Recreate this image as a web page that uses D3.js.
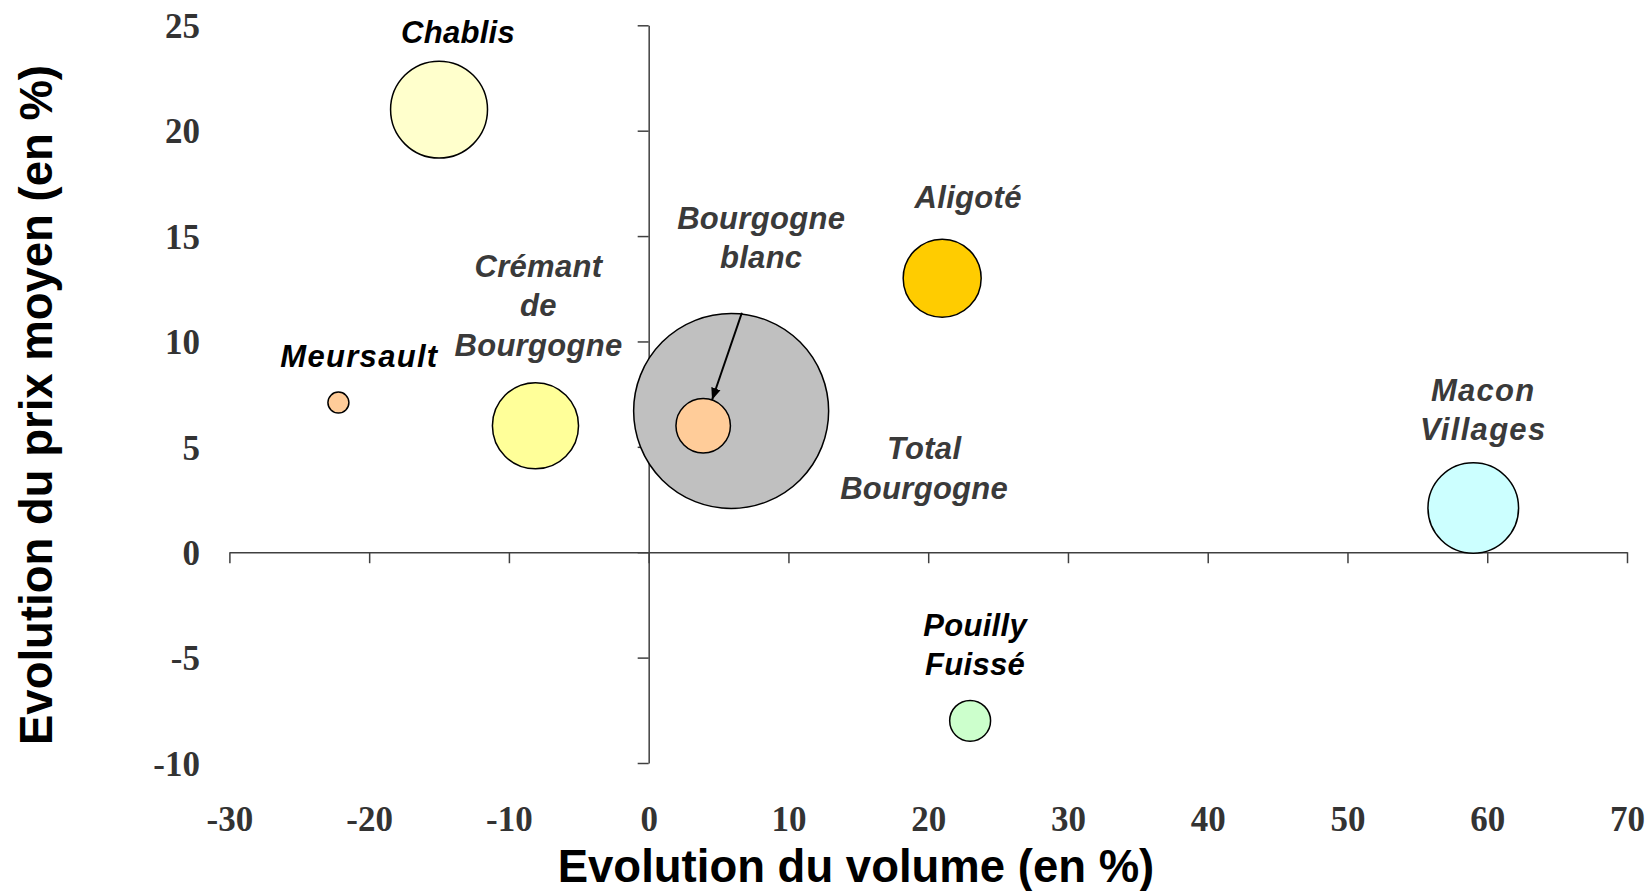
<!DOCTYPE html>
<html>
<head>
<meta charset="utf-8">
<script src="https://cdn.jsdelivr.net/npm/d3@7"></script>
<style>
  body { margin: 0; background: #fff; }
  svg { display: block; }
</style>
</head>
<body>
<svg id="chart" width="1650" height="891"></svg>
<script>
// data
const wines = ["Chablis", "Meursault", "Crémant de Bourgogne", "Total Bourgogne", "Bourgogne blanc", "Aligoté", "Macon Villages", "Pouilly Fuissé"]
const volumeChange = [-15, -22.2, -8.1, 5.9, 3.9, 21, 59, 23]
const priceChange = [21, 7.1, 6, 6.7, 6, 13, 2.1, -8]
const bubbleSize = [24.7, 1.16, 19.5, 100, 7.8, 16, 21.6, 4.4]
const labelLines = [["Chablis"], ["Meursault"], ["Crémant", "de", "Bourgogne"], ["Total", "Bourgogne"], ["Bourgogne", "blanc"], ["Aligoté"], ["Macon", "Villages"], ["Pouilly", "Fuissé"]]
const xTicks = [-30, -20, -10, 0, 10, 20, 30, 40, 50, 60, 70]
const yTicks = [-10, -5, 0, 5, 10, 15, 20, 25]

// styling / layout
const fills = ["#FFFFCC", "#FFCC99", "#FFFF99", "#C0C0C0", "#FFCC99", "#FFCC00", "#CCFFFF", "#CCFFCC"]
const labelColor = ["#000", "#000", "#3a3a3a", "#3a3a3a", "#3a3a3a", "#3a3a3a", "#3a3a3a", "#000"]
const labelSpacing = [0.3, 1.3, 0.3, 0.3, 0.3, 0.3, 1.3, 0.3]
// label offset from bubble centre (px): [dx, dy of first baseline]
const labelOffset = [[19, -67], [21, -36], [3, -149], [193, 48], [58, -197], [26, -70], [10, -107], [5, -85]]
const lineH = 39.5

const svg = d3.select("#chart")

const x = d3.scaleLinear().domain([-30, 70]).range([229.4, 1627])
const y = d3.scaleLinear().domain([-10, 25]).range([763, 25.3])
const r = d3.scaleSqrt().domain([0, 100]).range([0, 97.5])

const axisColor = "#404040"
const plain = d => String(d)   // keep the hyphen-minus of the original

/**
 * x axis: line at y = 0, labels at the bottom of the plot
 */
const gx = svg.append("g")
    .attr("transform", `translate(0,${y(0)})`)
    .call(d3.axisBottom(x).tickValues(xTicks).tickFormat(plain).tickSize(11).tickSizeOuter(0))
gx.select(".domain").attr("stroke", axisColor).attr("stroke-width", 1.5)
gx.selectAll(".tick line").attr("stroke", axisColor).attr("stroke-width", 1.5)
gx.selectAll(".tick text")
    .attr("y", 831 - y(0))
    .attr("dy", 0)
    .attr("fill", "#333")
    .attr("font-family", "'Liberation Serif', 'Times New Roman', serif")
    .attr("font-weight", "bold")
    .attr("font-size", 35)

/**
 * y axis: line at x = 0, labels at the left of the plot
 */
const gy = svg.append("g")
    .attr("transform", `translate(${x(0)},0)`)
    .call(d3.axisLeft(y).tickValues(yTicks).tickFormat(plain).tickSize(11).tickSizeOuter(0))
gy.select(".domain").attr("stroke", axisColor).attr("stroke-width", 1.5)
gy.selectAll(".tick line").attr("stroke", axisColor).attr("stroke-width", 1.5)
gy.selectAll(".tick text")
    .attr("x", 200 - x(0))
    .attr("dy", "0.35em")
    .attr("text-anchor", "end")
    .attr("fill", "#333")
    .attr("font-family", "'Liberation Serif', 'Times New Roman', serif")
    .attr("font-weight", "bold")
    .attr("font-size", 35)

// axis titles
svg.append("text")
    .attr("x", 856).attr("y", 882)
    .attr("text-anchor", "middle")
    .attr("font-family", "'Liberation Sans', Arial, sans-serif")
    .attr("font-weight", "bold")
    .attr("font-size", 45.5)
    .text("Evolution du volume (en %)")

svg.append("text")
    .attr("transform", "translate(52,405) rotate(-90)")
    .attr("text-anchor", "middle")
    .attr("font-family", "'Liberation Sans', Arial, sans-serif")
    .attr("font-weight", "bold")
    .attr("font-size", 45.5)
    .text("Evolution du prix moyen (en %)")

/**
 * bubbles
 */
const data = wines.map((w, i) => ({ name: w, vx: volumeChange[i], vy: priceChange[i], size: bubbleSize[i], i }))

svg.append("g").selectAll("circle")
    .data(data)
    .join("circle")
    .attr("cx", d => x(d.vx))
    .attr("cy", d => y(d.vy))
    .attr("r", d => r(d.size))
    .attr("fill", d => fills[d.i])
    .attr("stroke", "#000")
    .attr("stroke-width", 1.5)

/**
 * labels
 */
const labels = svg.append("g")
    .attr("font-family", "'Liberation Sans', Arial, sans-serif")
    .attr("font-weight", "bold")
    .attr("font-style", "italic")
    .attr("font-size", 31)
    .attr("text-anchor", "middle")

data.forEach(d => {
    const [dx, dy] = labelOffset[d.i]
    const t = labels.append("text")
        .attr("fill", labelColor[d.i])
        .attr("letter-spacing", labelSpacing[d.i])
    labelLines[d.i].forEach((line, k) => {
        t.append("tspan")
            .attr("x", x(d.vx) + dx)
            .attr("y", y(d.vy) + dy + k * lineH)
            .text(line)
    })
})

/**
 * arrow pointing to Bourgogne blanc
 */
svg.append("defs").append("marker")
    .attr("id", "head")
    .attr("viewBox", "0 0 10 10")
    .attr("refX", 10).attr("refY", 5)
    .attr("markerWidth", 6).attr("markerHeight", 6)
    .attr("orient", "auto")
    .append("path")
    .attr("d", "M0,1 L10,5 L0,9 z")
    .attr("fill", "#000")

const bb = data[4]
const cx = x(bb.vx), cy = y(bb.vy), rr = r(bb.size)
const sx = cx + 38.7, sy = cy - 113
const ang = Math.atan2(sy - cy, sx - cx)
svg.append("line")
    .attr("x1", sx).attr("y1", sy)
    .attr("x2", cx + Math.cos(ang) * rr).attr("y2", cy + Math.sin(ang) * rr)
    .attr("stroke", "#000")
    .attr("stroke-width", 2)
    .attr("marker-end", "url(#head)")
</script>
</body>
</html>
